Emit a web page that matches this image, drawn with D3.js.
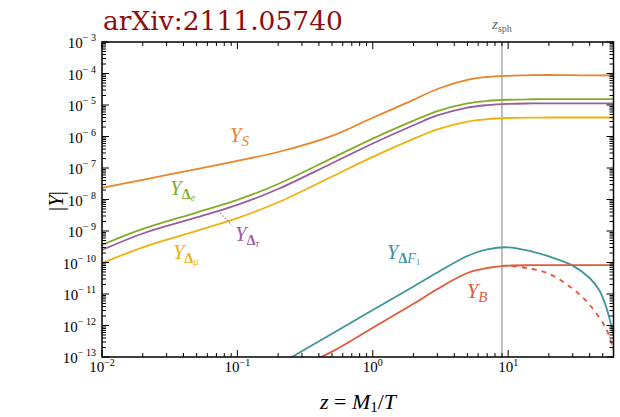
<!DOCTYPE html>
<html><head><meta charset="utf-8">
<script src="https://cdn.jsdelivr.net/npm/d3@7"></script>
<style>body{margin:0;background:#fff}svg{display:block}</style>
</head><body>
<svg id="c" width="620" height="417"></svg>
<script>
// ---- data ----
const zMain  = [0.01,0.02,0.05,0.1,0.2,0.5,1,2,3,5,7,10,15,20,30,40,60];
const Y_S    = [2.32e-8,4.21e-8,9.29e-8,1.69e-7,3.22e-7,1.05e-6,3.93e-6,1.46e-5,3.22e-5,6.31e-5,7.74e-5,8.45e-5,8.83e-5,8.95e-5,8.83e-5,8.71e-5,8.65e-5];
const Y_De   = [3.6e-10,1.16e-9,3.86e-9,9.7e-9,3.1e-8,2.05e-7,8.57e-7,3.2e-6,6.4e-6,1.13e-5,1.35e-5,1.47e-5,1.52e-5,1.53e-5,1.53e-5,1.53e-5,1.53e-5];
const Y_Dtau = [2.49e-10,8.34e-10,2.69e-9,6.74e-9,2.15e-8,1.42e-7,6.0e-7,2.27e-6,4.65e-6,8.26e-6,9.93e-6,1.09e-5,1.12e-5,1.13e-5,1.13e-5,1.13e-5,1.13e-5];
const Y_Dmu  = [9.44e-11,3.04e-10,1.01e-9,2.55e-9,8.15e-9,5.37e-8,2.25e-7,8.4e-7,1.68e-6,2.97e-6,3.54e-6,3.86e-6,3.98e-6,4.01e-6,4.01e-6,4.01e-6,4.01e-6];
const zF     = [0.2,0.5,1,2,3,5,7,10,15,20,30,40,47,53,60];
const Y_DF1  = [5.57e-14,5.5e-13,3.1e-12,1.74e-11,4.82e-11,1.61e-10,2.59e-10,3.04e-10,2.23e-10,1.56e-10,7.98e-11,3.22e-11,1.34e-11,3.86e-12,4.99e-13];
const zB     = [0.3,0.5,1,2,3,5,7,10,15,20,30,40,60];
const Y_B    = [5.37e-14,1.48e-13,8.5e-13,4.89e-12,1.44e-11,4.64e-11,6.69e-11,7.98e-11,8.2e-11,8.2e-11,8.2e-11,8.2e-11,8.2e-11];
const zBd    = [9,10,15,20,30,40,53,60];
const Y_Bdash= [7.8e-11,7.9e-11,6.22e-11,4.4e-11,1.47e-11,4.48e-12,7.85e-13,1.67e-13];
const zSph   = 9.0;
const tauPtrZ = [0.072,0.091];
const tauPtrY = [4.3e-9,1.55e-9];
const xTickExp = [-2,-1,0,1];
const yTickExp = [-3,-4,-5,-6,-7,-8,-9,-10,-11,-12,-13];

// ---- layout ----
const L=102, R=613.5, T=42, B=357;
const svg=d3.select("#c");
const x=d3.scaleLog().domain([0.01,60]).range([L,R]);
const y=d3.scaleLog().domain([1e-13,1e-3]).range([B,T]);
const tf="'Liberation Serif','Times New Roman',Times,serif";

const col={S:"#e8852a",De:"#84ac2a",Dtau:"#9b5c9c",Dmu:"#f0b10c",F1:"#3f9599",B:"#e05a3c"};

svg.append("clipPath").attr("id","clip").append("rect")
  .attr("x",L).attr("y",T).attr("width",R-L).attr("height",B-T);

// title
svg.append("text").attr("x",103).attr("y",30)
  .attr("font-family","'DejaVu Serif',serif").attr("font-size",26.5).attr("fill","#8b0e0e")
  .text("arXiv:2111.05740");

// z_sph line
svg.append("line").attr("x1",x(zSph)).attr("x2",x(zSph)).attr("y1",T).attr("y2",B)
  .attr("stroke","#aaaaaa").attr("stroke-width",1.5);
const zs=svg.append("text").attr("x",x(zSph)).attr("y",29).attr("text-anchor","middle")
  .attr("font-family",tf).attr("fill","#666").attr("font-size",15);
zs.append("tspan").attr("font-style","italic").text("z");
zs.append("tspan").attr("font-size",10).attr("dy",3).text("sph");

// lines
const g=svg.append("g").attr("clip-path","url(#clip)");
function draw(zs,ys,c,dash){
  const pts=zs.map((z,i)=>[x(z),y(ys[i])]);
  g.append("path").attr("d",d3.line().curve(d3.curveCatmullRom.alpha(0.5))(pts))
   .attr("fill","none").attr("stroke",c).attr("stroke-width",1.8)
   .attr("stroke-dasharray",dash||null);
}
draw(zMain,Y_S,col.S);
draw(zMain,Y_De,col.De);
draw(zMain,Y_Dtau,col.Dtau);
draw(zMain,Y_Dmu,col.Dmu);
draw(zF,Y_DF1,col.F1);
draw(zB,Y_B,col.B);
draw(zBd,Y_Bdash,col.B,"5,5");
g.append("line").attr("x1",x(tauPtrZ[0])).attr("y1",y(tauPtrY[0]))
 .attr("x2",x(tauPtrZ[1])).attr("y2",y(tauPtrY[1]))
 .attr("stroke",col.Dtau).attr("stroke-width",1.2).attr("stroke-dasharray","1.2,2");

// frame and ticks
const ax=svg.append("g").attr("stroke","#000");
ax.append("rect").attr("x",L).attr("y",T).attr("width",R-L).attr("height",B-T)
  .attr("fill","none").attr("stroke-width",1.5);
function xt(v,len){
  const p=x(v);
  ax.append("line").attr("x1",p).attr("x2",p).attr("y1",B).attr("y2",B-len).attr("stroke-width",1);
  ax.append("line").attr("x1",p).attr("x2",p).attr("y1",T).attr("y2",T+len).attr("stroke-width",1);
}
function yt(v,len){
  const p=y(v);
  ax.append("line").attr("y1",p).attr("y2",p).attr("x1",L).attr("x2",L+len).attr("stroke-width",1);
  ax.append("line").attr("y1",p).attr("y2",p).attr("x1",R).attr("x2",R-len).attr("stroke-width",1);
}
for(let d=-2; d<=1; d++){
  xt(Math.pow(10,d),7);
  for(let k=2;k<=9;k++){const v=k*Math.pow(10,d); if(v<60) xt(v,4);}
}
for(let d=-13; d<=-3; d++){
  yt(Math.pow(10,d),7);
  if(d<-3) for(let k=2;k<=9;k++) yt(k*Math.pow(10,d),4);
}

// tick labels
xTickExp.forEach(e=>{
  const t=svg.append("text").attr("x",x(Math.pow(10,e))).attr("y",372)
    .attr("text-anchor","middle").attr("font-family",tf).attr("font-size",15);
  t.append("tspan").text("10");
  t.append("tspan").attr("font-size",10).attr("dy",-6).text(e<0?"\u2212"+(-e):String(e));
});
yTickExp.forEach(e=>{
  const t=svg.append("text").attr("x",96).attr("y",y(Math.pow(10,e))+6)
    .attr("text-anchor","end").attr("font-family",tf).attr("font-size",15);
  t.append("tspan").text("10");
  t.append("tspan").attr("font-size",10).attr("dy",-7).text("\u2212 "+(-e));
});

// axis labels
svg.append("text").attr("transform","translate(63,201) rotate(-90)")
  .attr("text-anchor","middle").attr("font-family",tf).attr("font-size",21)
  .html('|<tspan font-style="italic">Y</tspan>|');
const xl=svg.append("text").attr("x",358).attr("y",409).attr("text-anchor","middle")
  .attr("font-family",tf).attr("font-size",22);
xl.append("tspan").attr("font-style","italic").text("z");
xl.append("tspan").text(" = ");
xl.append("tspan").attr("font-style","italic").text("M");
xl.append("tspan").attr("font-size",15).attr("dy",3).text("1");
xl.append("tspan").attr("dy",-3).text("/");
xl.append("tspan").attr("font-style","italic").text("T");

// series labels
function lab(z,v,c,sub,subsub){
  const t=svg.append("text").attr("x",x(z)).attr("y",y(v)).attr("fill",c)
    .attr("font-family",tf).attr("font-size",21);
  t.append("tspan").attr("font-style","italic").text("Y");
  if(subsub===undefined){
    t.append("tspan").attr("font-style","italic").attr("font-size",15).attr("dy",4).text(sub);
  } else {
    t.append("tspan").attr("font-weight","bold").attr("font-size",14).attr("dy",4).text("\u0394");
    t.append("tspan").attr("font-style","italic").attr("font-size",10).attr("dy",2).text(subsub);
  }
}
lab(0.088,6.7e-7,col.S,"S");
lab(0.0318,1.39e-8,col.De,"","e");
lab(0.096,4.8e-10,col.Dtau,"","\u03c4");
lab(0.0334,1.29e-10,col.Dmu,"","\u03bc");
const f1=svg.append("text").attr("x",x(1.27)).attr("y",y(1.29e-10)).attr("fill",col.F1)
  .attr("font-family",tf).attr("font-size",21);
f1.append("tspan").attr("font-style","italic").text("Y");
f1.append("tspan").attr("font-weight","bold").attr("font-size",14).attr("dy",4).text("\u0394");
f1.append("tspan").attr("font-style","italic").attr("font-size",14).text("F");
f1.append("tspan").attr("font-size",9).attr("dy",2).text("1");
lab(4.94,7.5e-12,col.B,"B");
</script>
</body></html>
